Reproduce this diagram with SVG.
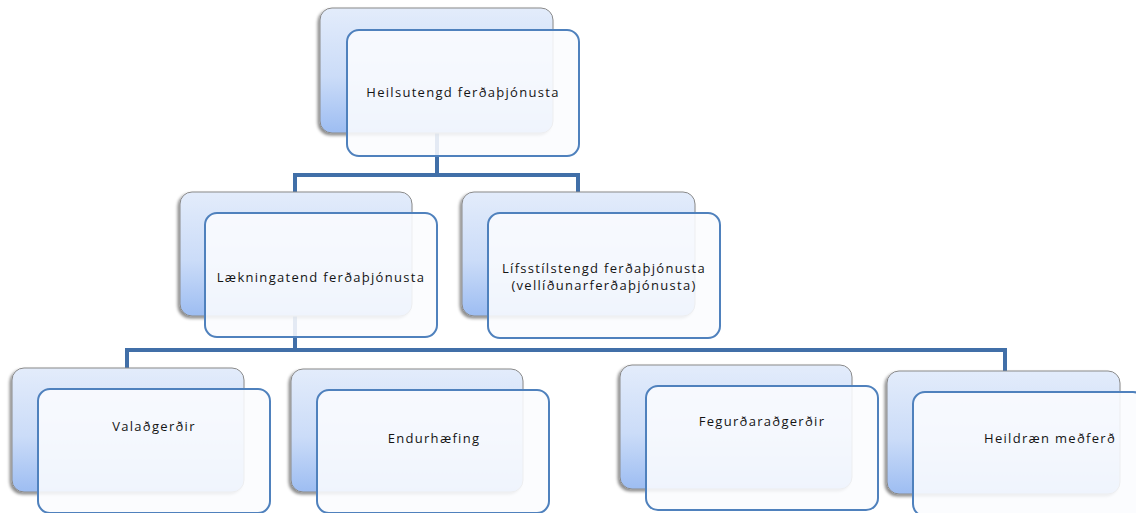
<svg xmlns="http://www.w3.org/2000/svg" width="1136" height="513" viewBox="0 0 1136 513">
<defs>
<linearGradient id="bg" x1="0" y1="0" x2="0" y2="1">
<stop offset="0" stop-color="#e3ecfb"/>
<stop offset="0.55" stop-color="#cbdcf8"/>
<stop offset="1" stop-color="#9dbdf2"/>
</linearGradient>
<filter id="sh" x="-10%" y="-10%" width="120%" height="125%">
<feDropShadow dx="-2" dy="2" stdDeviation="1.5" flood-color="#000" flood-opacity="0.45"/>
</filter>
</defs>
<style>
.back{fill:url(#bg);stroke:#8a8a8a;stroke-width:1;filter:url(#sh)}
.front{fill:#fbfcfe;fill-opacity:0.88;stroke:#4f81bd;stroke-width:2}
.lbl{font-family:"Open Sans","Liberation Sans",sans-serif;font-size:13px;letter-spacing:1.3px;fill:#141414;text-anchor:middle}
.con{fill:none;stroke:#416fa8;stroke-width:4;stroke-linejoin:miter}
</style>
<rect width="1136" height="513" fill="#ffffff"/>
<g id="connectors">
<path class="con" d="M437,133 V175 H295 V192 M437,175 H578 V192"/>
<path class="con" d="M295,316 V350 H127 V368 M295,350 H1005 V371"/>
</g>
<g id="n-heilsutengd">
<rect class="back" x="320" y="8" width="233" height="125" rx="12"/>
<rect class="front" x="347" y="30" width="232" height="126" rx="12"/>
<text class="lbl" x="463" y="97">Heilsutengd ferðaþjónusta</text>
</g>
<g id="n-laekninga">
<rect class="back" x="180" y="192" width="232" height="124" rx="12"/>
<rect class="front" x="205" y="213" width="232" height="124" rx="12"/>
<text class="lbl" x="321" y="282">Lækningatend ferðaþjónusta</text>
</g>
<g id="n-lifsstil">
<rect class="back" x="462" y="192" width="233" height="124" rx="12"/>
<rect class="front" x="488" y="213" width="232" height="125" rx="12"/>
<text class="lbl" x="604" y="273">Lífsstílstengd ferðaþjónusta</text>
<text class="lbl" x="604" y="290">(vellíðunarferðaþjónusta)</text>
</g>
<g id="n-valadgerdir">
<rect class="back" x="12" y="368" width="232" height="124" rx="12"/>
<rect class="front" x="38" y="389" width="232" height="124" rx="12"/>
<text class="lbl" x="154" y="431">Valaðgerðir</text>
</g>
<g id="n-endurhaefing">
<rect class="back" x="291" y="369" width="232" height="123" rx="12"/>
<rect class="front" x="317" y="390" width="232" height="123" rx="12"/>
<text class="lbl" x="434" y="443">Endurhæfing</text>
</g>
<g id="n-fegurdar">
<rect class="back" x="620" y="365" width="232" height="124" rx="12"/>
<rect class="front" x="646" y="386" width="232" height="124" rx="12"/>
<text class="lbl" x="762" y="426">Fegurðaraðgerðir</text>
</g>
<g id="n-heildraen">
<rect class="back" x="887" y="371" width="233" height="123" rx="12"/>
<rect class="front" x="913" y="392" width="232" height="124" rx="12"/>
<text class="lbl" x="1050" y="443">Heildræn meðferð</text>
</g>
</svg>
